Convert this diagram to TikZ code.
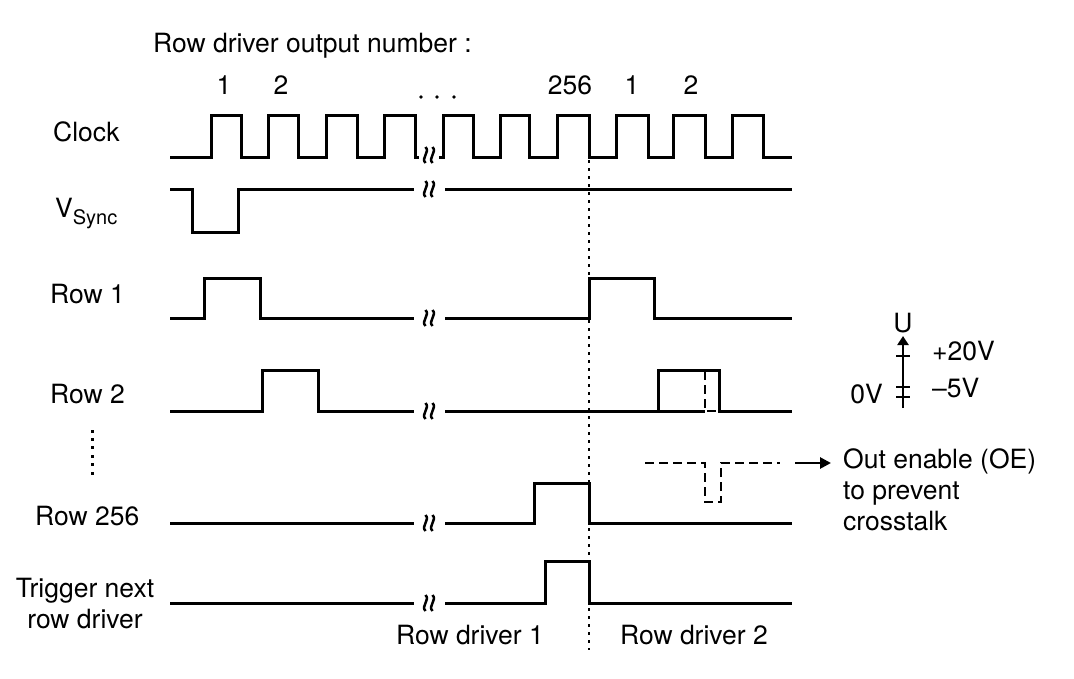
\documentclass[tikz,border=0pt]{standalone}
\usepackage{fontspec}
\setmainfont{TeX Gyre Heros}
\usetikzlibrary{arrows.meta}
\begin{document}
\begin{tikzpicture}[x=1pt,y=-1pt,
  wave/.style={line width=3pt, line join=miter},
  dashwave/.style={line width=2.7pt, dash pattern=on 9pt off 5pt},
  lbl/.style={inner sep=0pt, font=\fontsize{26.5}{31}\selectfont},
  brk/.pic={
    \draw[line width=2.5pt] (-3.5,-8) .. controls (1.5,-3) and (-8.5,3) .. (-3.5,8);
    \draw[line width=2.5pt] (3.5,-8) .. controls (8.5,-3) and (-1.5,3) .. (3.5,8);
  }]
\useasboundingbox (0,0) rectangle (1074,678);
% labels
\node[lbl, anchor=base west] (title) at (153,52) {Row driver output number :};
\node[lbl, anchor=base] (n1) at (224,94) {1};
\node[lbl, anchor=base] (n2) at (281,94) {2};
\node[lbl, anchor=base] (n256) at (570,94) {256};
\node[lbl, anchor=base] (m1) at (632,94) {1};
\node[lbl, anchor=base] (m2) at (691,94) {2};
\foreach \x in {421,437,454} \fill (\x,97) circle (1.9);
\node[lbl, anchor=base west] (clk) at (53,141) {Clock};
\node[lbl, anchor=base west] (vs) at (55,217) {V\raisebox{-7pt}{\fontsize{20}{24}\selectfont Sync}};
\node[lbl, anchor=base west] (r1) at (50,303) {Row 1};
\node[lbl, anchor=base west] (r2) at (50,403) {Row 2};
\foreach \i in {0,...,5} \fill (90.5,429.5+8.4*\i) rectangle ++(3,3);
\node[lbl, anchor=base west] (r256) at (35,525) {Row 256};
\node[lbl, anchor=base, align=center] (trg) at (85,628) {Trigger next\\row driver};
\node[lbl, anchor=base] (rd1) at (470,644) {Row driver 1};
\node[lbl, anchor=base] (rd2) at (694,644) {Row driver 2};
\node[lbl, anchor=base west, align=left] (oe) at (843,530) {Out enable (OE)\\to prevent\\crosstalk};
\node[lbl, anchor=base] (u) at (903,332) {U};
\node[lbl, anchor=base west] (p20) at (932,360) {+20V};
\node[lbl, anchor=base west] (m5) at (932,397) {\textendash5V};
\node[lbl, anchor=base east] (z) at (883,403) {0V};
% clock
\draw[wave] (170,157) -| (211,115) -| (241,157) -| (268,115) -| (298,157) -| (326,115) -| (357,157) -| (384,115) -| (415,157) -- (419,157);
\draw[wave] (439,157) -| (443,115) -| (473,157) -| (500,115) -| (529,157) -| (557,115) -| (589,157) -| (616,115) -| (648,157) -| (673,115) -| (705,157) -| (732,115) -| (763,157) -- (792,157);
\pic at (429,155) {brk};
% vsync
\draw[wave] (170,189) -| (192,232) -| (238,189) -- (414,189);
\draw[wave] (445,189) -- (792,189);
\pic at (429,189) {brk};
% row 1
\draw[wave] (170,318) -| (204,278) -| (260,318) -- (414,318);
\draw[wave] (445,318) -| (589,278) -| (654,318) -- (792,318);
\pic at (429,318) {brk};
% row 2
\draw[wave] (170,411) -| (262,370) -| (318,411) -- (414,411);
\draw[wave] (445,411) -- (705,411);
\draw[wave] (658,411) |- (719,370) -- (719,411) -- (792,411);
\draw[dashwave] (705,371) -- (705,411) -- (719,411);
\pic at (429,411) {brk};
% row 256
\draw[wave] (170,523) -- (414,523);
\draw[wave] (445,523) -| (534,483) -| (589,523) -- (792,523);
\pic at (429,523) {brk};
% trigger
\draw[wave] (170,603) -- (414,603);
\draw[wave] (445,603) -| (545,561) -| (589,603) -- (792,603);
\pic at (429,603) {brk};
% dotted marker
\draw[line width=2.8pt, dash pattern=on 2.8pt off 5.2pt] (589,160) -- (589,650);
% OE
\coordinate (oes) at (645,463);
\coordinate (oee) at (780,463);
\draw[dashwave] (oes) -| (705,502) -| (721,463) -- (oee);
\coordinate (arrs) at (795,463);
\coordinate (arre) at (831,463);
\draw[line width=2.7pt, -{Triangle[width=11pt,length=11pt]}] (arrs) -- (arre);
% U axis
\coordinate (ub) at (903,408);
\coordinate (ut) at (903,336);
\draw[line width=2.7pt, -{Triangle[width=11pt,length=9pt]}] (ub) -- (ut);
\foreach \y in {356,387,397} \draw[line width=2.5pt] (896,\y) -- (910,\y);
\end{tikzpicture}
\end{document}
